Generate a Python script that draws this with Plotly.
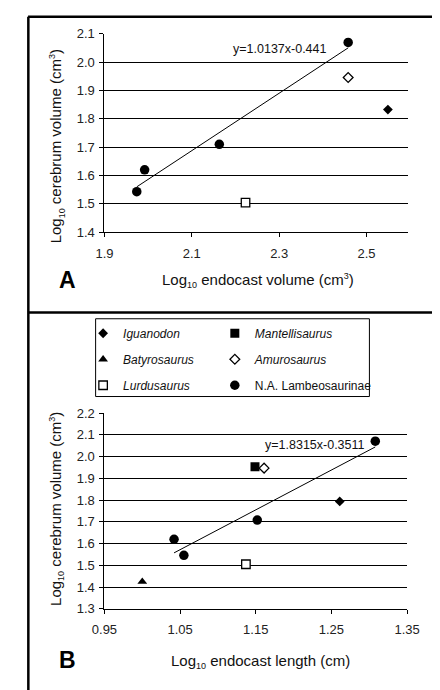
import plotly.graph_objects as go

# ---------------- data ----------------
# Panel A: log10 endocast volume vs log10 cerebrum volume
a_lamb_x = [1.974, 1.992, 2.163, 2.458]
a_lamb_y = [1.543, 1.620, 1.710, 2.070]
a_amuro_x = [2.458]
a_amuro_y = [1.946]
a_iguan_x = [2.549]
a_iguan_y = [1.833]
a_lurdu_x = [2.223]
a_lurdu_y = [1.504]
a_trend = [1.0137, -0.441]
a_eq_label = "y=1.0137x-0.441"

# Panel B: log10 endocast length vs log10 cerebrum volume
b_lamb_x = [1.042, 1.055, 1.152, 1.308]
b_lamb_y = [1.620, 1.546, 1.708, 2.071]
b_iguan_x = [1.261]
b_iguan_y = [1.794]
b_mant_x = [1.149]
b_mant_y = [1.953]
b_baty_x = [1.000]
b_baty_y = [1.425]
b_amuro_x = [1.161]
b_amuro_y = [1.947]
b_lurdu_x = [1.137]
b_lurdu_y = [1.505]
b_trend = [1.8315, -0.3511]
b_eq_label = "y=1.8315x-0.3511"

SUB10 = '<sub><span style="font-size:9px">10</span></sub>'
SUP3 = '<sup><span style="font-size:9px">3</span></sup>'
a_xtitle = f"Log{SUB10} endocast volume (cm{SUP3})"
b_xtitle = f"Log{SUB10} endocast length (cm)"
ytitle = f"Log{SUB10} cerebrum volume (cm{SUP3})"

W, H = 440, 690
FONT = "Arial, Liberation Sans, sans-serif"
OFF = 8  # page body margin in the browser


def px(x):
    return (x - OFF) / W


def py(y):
    return 1 - (y - OFF) / H


fig = go.Figure()
BLACK = "black"


def add(xs, ys, symbol, size, filled, name, axis, legend=None, show=False, group=None):
    xa, ya = axis
    fig.add_trace(go.Scatter(
        x=xs, y=ys, mode="markers", name=name,
        marker=dict(symbol=symbol, size=size,
                    color=BLACK if filled else "white",
                    line=dict(color=BLACK, width=0 if filled else 1.3)),
        xaxis=xa, yaxis=ya, showlegend=show,
        legend=legend if legend else "legend",
        legendgroup=group,
    ))


# Panel A
add(a_lamb_x, a_lamb_y, "circle", 9.5, True, "N.A. Lambeosaurinae", ("x", "y"))
add(a_amuro_x, a_amuro_y, "diamond", 7.5, False, "Amurosaurus", ("x", "y"))
add(a_iguan_x, a_iguan_y, "diamond", 7.5, True, "Iguanodon", ("x", "y"))
add(a_lurdu_x, a_lurdu_y, "square", 8.5, False, "Lurdusaurus", ("x", "y"))
ax0, ax1 = min(a_lamb_x), max(a_lamb_x)
fig.add_trace(go.Scatter(x=[ax0, ax1], y=[a_trend[0] * ax0 + a_trend[1], a_trend[0] * ax1 + a_trend[1]],
                         mode="lines", line=dict(color=BLACK, width=1), showlegend=False,
                         xaxis="x", yaxis="y"))

# Panel B
add(b_iguan_x, b_iguan_y, "diamond", 7.5, True, "<i>Iguanodon</i>", ("x2", "y2"), "legend", True, "g1")
add(b_baty_x, b_baty_y, "triangle-up", 8.5, True, "<i>Batyrosaurus</i>", ("x2", "y2"), "legend", True, "g2")
add(b_lurdu_x, b_lurdu_y, "square", 8.5, False, "<i>Lurdusaurus</i>", ("x2", "y2"), "legend", True, "g3")
add(b_mant_x, b_mant_y, "square", 9, True, "<i>Mantellisaurus</i>", ("x2", "y2"), "legend2", True, "g4")
add(b_amuro_x, b_amuro_y, "diamond", 7.5, False, "<i>Amurosaurus</i>", ("x2", "y2"), "legend2", True, "g5")
add(b_lamb_x, b_lamb_y, "circle", 9.5, True, "N.A. Lambeosaurinae", ("x2", "y2"), "legend2", True, "g6")
bx0, bx1 = min(b_lamb_x), max(b_lamb_x)
fig.add_trace(go.Scatter(x=[bx0, bx1], y=[b_trend[0] * bx0 + b_trend[1], b_trend[0] * bx1 + b_trend[1]],
                         mode="lines", line=dict(color=BLACK, width=1), showlegend=False,
                         xaxis="x2", yaxis="y2"))

tickfont = dict(family=FONT, size=13, color="#222")
titlefont = dict(family=FONT, size=15, color="#111")

xcommon = dict(showgrid=False, showline=True, linecolor=BLACK, linewidth=1,
               ticks="outside", ticklen=4, tickcolor=BLACK, tickwidth=1,
               tickfont=tickfont, zeroline=False, tickformat=".2f",
               ticklabelstandoff=5)
ycommon = dict(showgrid=True, gridcolor=BLACK, gridwidth=1, showline=True,
               linecolor=BLACK, linewidth=1, ticks="outside", ticklen=4,
               tickcolor=BLACK, tickwidth=1, tickfont=tickfont, zeroline=False,
               tickformat=".1f", dtick=0.1, ticklabelstandoff=2)

fig.update_layout(
    width=W, height=H,
    margin=dict(l=0, r=0, t=0, b=0),
    paper_bgcolor="white", plot_bgcolor="white",
    font=dict(family=FONT, color=BLACK),
    xaxis=dict(xcommon, domain=[px(96.7), px(419.3)], range=[1.9, 2.595],
               tick0=1.9, dtick=0.2, tickformat=".1f", anchor="y"),
    yaxis=dict(ycommon, domain=[py(230), py(27.3)], range=[1.4, 2.1], anchor="x"),
    xaxis2=dict(xcommon, domain=[px(96.7), px(418.3)], range=[0.95, 1.35],
                tick0=0.95, dtick=0.1, anchor="y2"),
    yaxis2=dict(ycommon, domain=[py(615), py(415)], range=[1.3, 2.2], anchor="x2"),
    legend=dict(x=px(74), y=py(318.5), xanchor="left", yanchor="top",
                bgcolor="rgba(0,0,0,0)", borderwidth=0, tracegroupgap=7,
                font=dict(family=FONT, size=12, color="#111")),
    legend2=dict(x=px(214), y=py(318.5), xanchor="left", yanchor="top",
                 bgcolor="rgba(0,0,0,0)", borderwidth=0, tracegroupgap=7,
                 font=dict(family=FONT, size=12, color="#111")),
    showlegend=True,
)


def label(x, y, text, font, angle=0):
    fig.add_annotation(x=px(x), y=py(y), xref="paper", yref="paper", text=text,
                       xanchor="center", yanchor="middle", textangle=angle,
                       showarrow=False, font=font)


# Axis titles
label(260, 279, a_xtitle, titlefont)
label(262.5, 668.5, b_xtitle, titlefont)
label(45.5, 142, ytitle, titlefont, -90)
label(45.5, 512.6, ytitle, titlefont, -90)

# Trend-line equations
fig.add_annotation(x=2.301, y=2.046, xref="x", yref="y", text=a_eq_label, showarrow=False,
                   xanchor="center", yanchor="middle",
                   font=dict(family=FONT, size=12.5, color="#111"))
fig.add_annotation(x=1.2277, y=2.0515, xref="x2", yref="y2", text=b_eq_label, showarrow=False,
                   xanchor="center", yanchor="middle",
                   font=dict(family=FONT, size=12.5, color="#111"))

# Panel letters
letterfont = dict(family=FONT, size=23, color=BLACK)
label(57, 278.5, "<b>A</b>", letterfont)
label(57, 667, "<b>B</b>", letterfont)

# Panel frames
frame = dict(color=BLACK, width=2.5)
fig.add_shape(type="line", xref="paper", yref="paper", x0=px(15.5), x1=1, y0=py(9.8), y1=py(9.8), line=frame)
fig.add_shape(type="line", xref="paper", yref="paper", x0=px(15.5), x1=1, y0=py(312), y1=py(312), line=frame)
fig.add_shape(type="line", xref="paper", yref="paper", x0=px(15.8), x1=px(15.8), y0=py(9.8), y1=0, line=frame)
# Legend box
fig.add_shape(type="rect", xref="paper", yref="paper", x0=px(87.3), x1=px(378.3), y0=py(398), y1=py(318.5),
              line=dict(color=BLACK, width=1))

fig.write_html("out.html")
